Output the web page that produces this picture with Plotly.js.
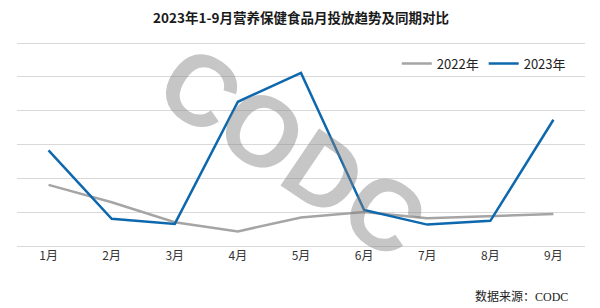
<!DOCTYPE html>
<html>
<head>
<meta charset="utf-8">
<script src="https://cdn.plot.ly/plotly-3.0.1.min.js"></script>
<style>html,body{margin:0;padding:0;background:#fff;}#chart{width:600px;height:308px;}</style>
</head>
<body>
<div id="chart"></div>
<script>
const months = ["1月","2月","3月","4月","5月","6月","7月","8月","9月"];
const values2022 = [1.82, 1.31, 0.72, 0.45, 0.86, 1.02, 0.84, 0.90, 0.96];
const values2023 = [2.84, 0.82, 0.67, 4.27, 5.12, 1.08, 0.65, 0.76, 3.74];
const seriesNames = ["2022年", "2023年"];
const titleText = "2023年1-9月营养保健食品月投放趋势及同期对比";
const sourceText = "数据来源：CODC";
const watermarkText = "CODC";

const cjk = "'Noto Sans CJK SC', 'Noto Sans', sans-serif";

const traces = [
  {x: months, y: values2022, name: seriesNames[0], type: "scatter", mode: "lines",
   line: {color: "#a5a5a5", width: 2.5}},
  {x: months, y: values2023, name: seriesNames[1], type: "scatter", mode: "lines",
   line: {color: "#0e68ad", width: 2.5}}
];

const layout = {
  width: 600, height: 308,
  margin: {l: 17, r: 15, t: 41, b: 61},
  paper_bgcolor: "#fff", plot_bgcolor: "#fff",
  title: {text: "<b>" + titleText + "</b>", x: 0.5, xref: "paper", y: 0.955, yref: "container",
          font: {family: cjk, size: 13.5, color: "#1a1a1a"}},
  showlegend: true,
  legend: {orientation: "h", x: 0.975, xanchor: "right", y: 0.89, yanchor: "middle",
           font: {family: cjk, size: 13, color: "#222"}, bgcolor: "rgba(0,0,0,0)",
           itemwidth: 30, traceorder: "normal"},
  xaxis: {type: "category", range: [-0.5, 8.5], showgrid: false, zeroline: false, showline: false,
          ticks: "", tickfont: {family: cjk, size: 12, color: "#333"}, fixedrange: true},
  yaxis: {range: [-0.01, 6.06], tickmode: "linear", tick0: 0, dtick: 1, showticklabels: false, showgrid: true,
          gridcolor: "#d9d9d9", gridwidth: 1, zeroline: true, zerolinecolor: "#d9d9d9",
          zerolinewidth: 1, showline: false, ticks: "", fixedrange: true},
  annotations: [
    {text: watermarkText, xref: "paper", yref: "paper", x: 0.484, y: 0.465,
     showarrow: false, textangle: 34,
     font: {family: "'Liberation Sans', Arial, sans-serif", size: 100, color: "rgba(128,128,128,0.45)", weight: "bold"}},
    {text: sourceText, xref: "paper", yref: "paper", x: 0.974, xanchor: "right", y: -0.24, yanchor: "middle",
     showarrow: false, font: {family: "'Liberation Serif', 'Noto Sans CJK SC', serif", size: 12, color: "#222"}}
  ]
};

Plotly.newPlot("chart", traces, layout, {displayModeBar: false, staticPlot: true});
</script>
</body>
</html>
